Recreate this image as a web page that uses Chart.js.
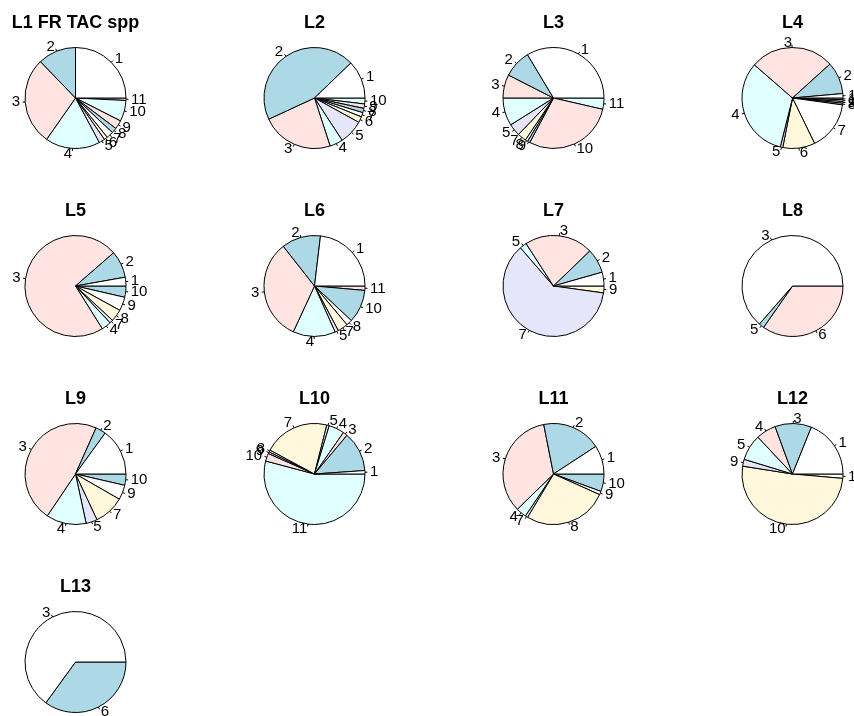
<!DOCTYPE html>
<html>
<head>
<meta charset="utf-8">
<script src="https://cdn.jsdelivr.net/npm/chart.js@4/dist/chart.umd.min.js"></script>
<style>
  html, body { margin: 0; padding: 0; background: #fff; }
  body { width: 854px; height: 716px; overflow: hidden; position: relative; }
  canvas { position: absolute; }
</style>
</head>
<body>
<script>
// Share of each group per panel (percent of the panel total), listed in pie order.
const L1_labels  = ['1','2','3','4','5','6','7','8','9','10','11'];
const L1_values  = [25.0, 12.2, 28.1, 17.5, 1.9, 1.1, 2.2, 1.7, 2.8, 6.7, 0.8];

const L2_labels  = ['1','2','3','4','5','6','7','8','9','10'];
const L2_values  = [12.2, 44.7, 23.1, 4.2, 7.8, 1.9, 1.4, 1.4, 1.4, 1.9];

const L3_labels  = ['1','2','3','4','5','7','8','9','10','11'];
const L3_values  = [33.6, 8.9, 7.5, 8.9, 3.9, 2.8, 0.8, 0.8, 29.2, 3.6];

const L4_labels  = ['1','2','3','4','5','6','7','8','9','10','11'];
const L4_values  = [1.4, 10.3, 26.9, 32.5, 0.8, 10.3, 15.6, 0.55, 0.55, 0.55, 0.55];

const L5_labels  = ['1','2','3','4','7','8','9','10'];
const L5_values  = [2.8, 8.6, 72.5, 3.1, 1.1, 3.9, 4.4, 3.6];

const L6_labels  = ['1','2','3','4','5','7','8','10','11'];
const L6_values  = [23.1, 12.5, 32.5, 13.6, 1.1, 3.3, 1.9, 10.6, 1.4];

const L7_labels  = ['1','2','3','5','7','9'];
const L7_values  = [4.4, 7.8, 21.9, 2.2, 61.4, 2.2];

const L8_labels  = ['3','5','6'];
const L8_values  = [63.6, 1.7, 34.7];

const L9_labels  = ['1','2','3','4','5','7','9','10'];
const L9_values  = [15.0, 3.3, 47.2, 12.8, 3.6, 9.7, 4.7, 3.6];

const L10_labels = ['1','2','3','4','5','7','8','9','10','11'];
const L10_values = [1.1, 12.8, 1.4, 5.0, 0.8, 21.1, 0.6, 0.6, 2.5, 54.2];

const L11_labels = ['1','2','3','4','7','8','9','10'];
const L11_values = [9.2, 18.9, 34.2, 3.3, 0.8, 26.9, 1.1, 5.6];

const L12_labels = ['1','3','4','5','9','10','11'];
const L12_values = [18.9, 11.7, 6.4, 8.3, 2.2, 51.1, 1.4];

const L13_labels = ['3','6'];
const L13_values = [65.0, 35.0];

const titles = ['L1 FR TAC spp','L2','L3','L4','L5','L6','L7','L8','L9','L10','L11','L12','L13'];
const panelLabels = [L1_labels, L2_labels, L3_labels, L4_labels, L5_labels, L6_labels, L7_labels,
                     L8_labels, L9_labels, L10_labels, L11_labels, L12_labels, L13_labels];
const panelValues = [L1_values, L2_values, L3_values, L4_values, L5_values, L6_values, L7_values,
                     L8_values, L9_values, L10_values, L11_values, L12_values, L13_values];

// Classic pie palette, recycled by slice position.
const palette = ['#FFFFFF', '#ADD8E6', '#FFE4E1', '#E0FFFF', '#E6E6FA', '#FFF8DC'];

// Grid geometry
const CELL_W = 239, CELL_H = 188;
const COL0_X = 75, ROW0_Y = 97.5;
const RADIUS = 50.5;
const TITLE_H = 29.8;   // title padding top (8.2) + line height (21.6)

// Slice name labels with a short tick, placed just outside the rim.
const sliceLabels = {
  id: 'sliceLabels',
  afterDatasetsDraw(chart) {
    const ctx = chart.ctx;
    const meta = chart.getDatasetMeta(0);
    const names = chart.data.labels;
    ctx.save();
    ctx.font = '15px "Liberation Sans", Arial, sans-serif';
    ctx.fillStyle = '#000';
    ctx.strokeStyle = '#000';
    ctx.lineWidth = 1;
    ctx.textBaseline = 'middle';
    meta.data.forEach((arc, i) => {
      const p = arc.getProps(['x', 'y', 'startAngle', 'endAngle', 'outerRadius'], true);
      const mid = (p.startAngle + p.endAngle) / 2;
      const c = Math.cos(mid), s = Math.sin(mid);
      const r = p.outerRadius;
      ctx.beginPath();
      ctx.moveTo(p.x + c * r, p.y + s * r);
      ctx.lineTo(p.x + c * r * 1.05, p.y + s * r * 1.05);
      ctx.stroke();
      ctx.textAlign = c < 0 ? 'right' : 'left';
      ctx.fillText(names[i], p.x + c * r * 1.1, p.y + s * r * 1.1);
    });
    ctx.restore();
  }
};

titles.forEach((title, k) => {
  const col = k % 4, row = Math.floor(k / 4);
  const cx = COL0_X + CELL_W * col;
  const cy = ROW0_Y + 188 * row;

  const canvas = document.createElement('canvas');
  canvas.width = CELL_W;
  canvas.height = CELL_H;
  canvas.style.width = CELL_W + 'px';
  canvas.style.height = CELL_H + 'px';
  canvas.style.left = (cx - CELL_W / 2) + 'px';
  canvas.style.top = (cy - CELL_H / 2) + 'px';
  document.body.appendChild(canvas);

  // Slices run counter-clockwise from 3 o'clock: feed them in reverse
  // to a clockwise pie that starts at 3 o'clock.
  const labels = panelLabels[k].slice().reverse();
  const values = panelValues[k].slice().reverse();
  const colors = panelValues[k].map((_, i) => palette[i % palette.length]).reverse();

  new Chart(canvas, {
    type: 'pie',
    data: {
      labels: labels,
      datasets: [{
        data: values,
        backgroundColor: colors,
        borderColor: '#000',
        borderWidth: 1,
        hoverOffset: 0
      }]
    },
    options: {
      responsive: false,
      devicePixelRatio: 1,
      animation: false,
      events: [],
      rotation: 90,
      radius: RADIUS,
      layout: { padding: { top: 0, bottom: TITLE_H, left: 0, right: 0 } },
      plugins: {
        legend: { display: false },
        tooltip: { enabled: false },
        title: {
          display: true,
          text: title,
          color: '#000',
          font: { family: '"Liberation Sans", Arial, sans-serif', size: 18, weight: 'bold', lineHeight: 1.2 },
          padding: { top: 8.2, bottom: 0 }
        }
      }
    },
    plugins: [sliceLabels]
  });
});
</script>
</body>
</html>
